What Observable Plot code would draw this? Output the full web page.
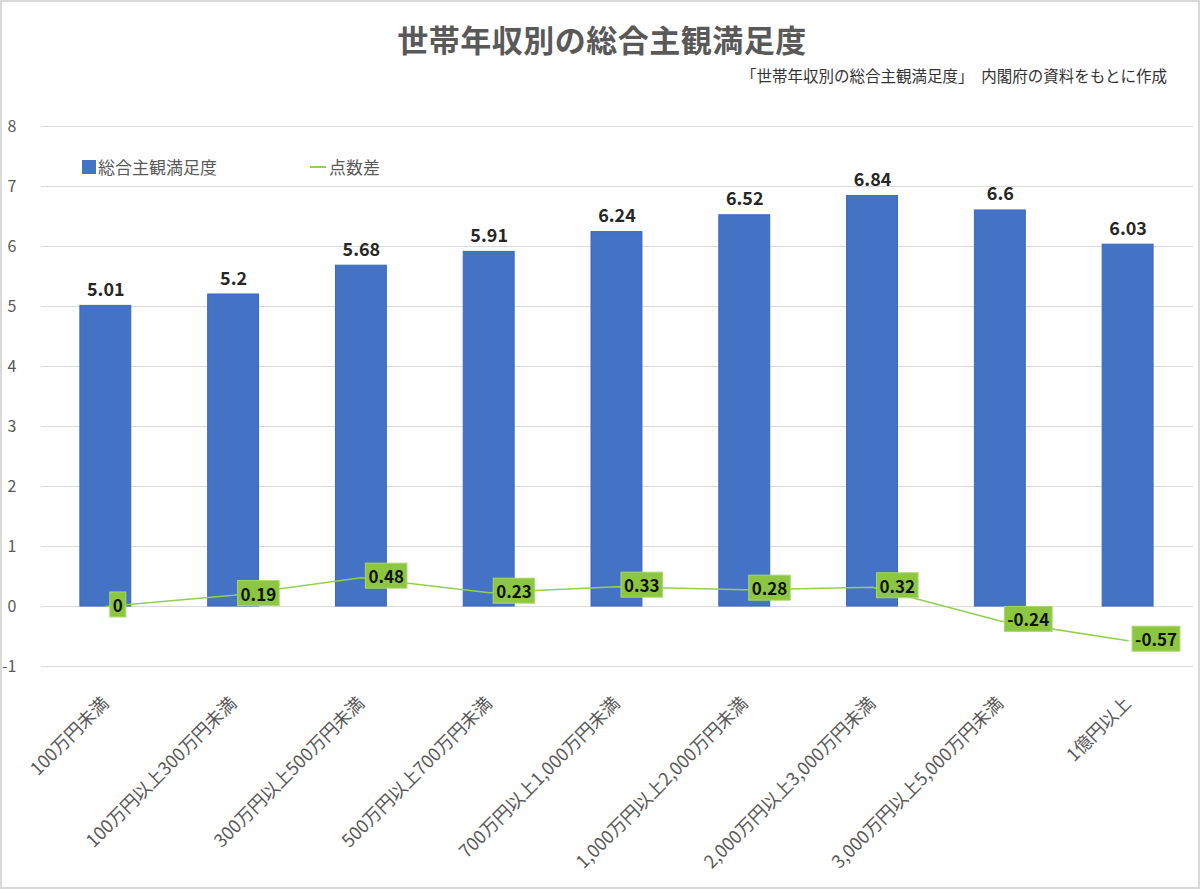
<!DOCTYPE html>
<html>
<head>
<meta charset="utf-8">
<script src="https://cdn.jsdelivr.net/npm/d3@7"></script>
<script src="https://cdn.jsdelivr.net/npm/@observablehq/plot@0.6"></script>
<style>
  html, body { margin: 0; padding: 0; background: #fff; }
  #wrap { position: relative; width: 1200px; height: 889px; box-sizing: border-box; border: 2px solid #d9d9d9; overflow: hidden;
          font-family: "Noto Sans CJK JP", "Noto Sans", sans-serif; }
  #title { position: absolute; left: 0; width: 1200px; top: 14px; text-align: center; font-size: 31px; font-weight: bold; color: #595959; letter-spacing: 0.5px; }
  #sub { position: absolute; right: 31px; top: 62px; font-size: 15.5px; color: #333; white-space: pre; }
  #chart { position: absolute; left: -2px; top: 98px; }
  .legend { position: absolute; font-size: 17px; color: #595959; display: flex; align-items: center; }
</style>
</head>
<body>
<div id="wrap">
  <div id="title">世帯年収別の総合主観満足度</div>
  <div id="sub">「世帯年収別の総合主観満足度」　内閣府の資料をもとに作成</div>
  <div id="chart"></div>
  <div class="legend" style="left:80px; top:152px;"><span style="display:inline-block;width:14px;height:14px;background:#4472C4;margin-right:2px;"></span>総合主観満足度</div>
  <div class="legend" style="left:308px; top:152px;"><span style="display:inline-block;width:16px;height:2px;background:#92D050;margin-right:3px;"></span>点数差</div>
</div>
<script>
const categories = ["100万円未満", "100万円以上300万円未満", "300万円以上500万円未満", "500万円以上700万円未満", "700万円以上1,000万円未満", "1,000万円以上2,000万円未満", "2,000万円以上3,000万円未満", "3,000万円以上5,000万円未満", "1億円以上"];
const satisfaction = [5.01, 5.2, 5.68, 5.91, 6.24, 6.52, 6.84, 6.6, 6.03];
const diff = [0, 0.19, 0.48, 0.23, 0.33, 0.28, 0.32, -0.24, -0.57];
const yTicks = [-1, 0, 1, 2, 3, 4, 5, 6, 7, 8];

const data = categories.map((c, i) => ({cat: c, sat: satisfaction[i], diff: diff[i]}));

const chart = Plot.plot({
  width: 1200,
  height: 786,
  marginTop: 26,
  marginBottom: 219,
  marginLeft: 41,
  marginRight: 5,
  style: {fontFamily: '"Noto Sans CJK JP", "Noto Sans", sans-serif', background: "transparent"},
  x: {domain: categories, paddingInner: 0.6, paddingOuter: 0.3, label: null},
  y: {domain: [-1, 8], label: null},
  marks: [
    Plot.ruleY(yTicks, {stroke: "#d9d9d9", strokeWidth: 1}),
    Plot.axisY({ticks: yTicks, tickSize: 0, tickPadding: 25, textAnchor: "end", fontSize: 16, fill: "#595959", tickFormat: d => String(d), label: null}),
    Plot.axisX({tickSize: 0, tickPadding: 34, tickRotate: -45, fontSize: 18, fill: "#595959", label: null}),
    Plot.barY(data, {x: "cat", y: "sat", fill: "#4472C4", stroke: "#3a68bd", strokeWidth: 1}),
    Plot.text(data, {x: "cat", y: "sat", text: d => String(d.sat), dy: -10, lineAnchor: "bottom", fontSize: 18, fontWeight: "bold", fill: "#262626"}),
    Plot.line(data, {x: "cat", y: "diff", stroke: "#92D050", strokeWidth: 1.5}),
    Plot.text(data, {x: "cat", y: "diff", text: d => String(d.diff), textAnchor: "start", dx: 7, fontSize: 17, fontWeight: "bold", fill: "#111"})
  ]
});
document.getElementById("chart").appendChild(chart);

// add green boxes behind the difference labels (last text mark)
const svgNS = "http://www.w3.org/2000/svg";
const textGroups = chart.querySelectorAll('g[aria-label="text"]');
const diffGroup = textGroups[textGroups.length - 1];
diffGroup.querySelectorAll("text").forEach(t => {
  const b = t.getBBox();
  const r = document.createElementNS(svgNS, "rect");
  r.setAttribute("x", b.x - 3);
  r.setAttribute("y", b.y);
  r.setAttribute("width", b.width + 6);
  r.setAttribute("height", b.height);
  r.setAttribute("fill", "#8DC641");
  r.setAttribute("stroke", "#A9D86E");
  r.setAttribute("stroke-width", "1");
  if (t.getAttribute("transform")) r.setAttribute("transform", t.getAttribute("transform"));
  t.parentNode.insertBefore(r, t);
});
</script>
</body>
</html>
